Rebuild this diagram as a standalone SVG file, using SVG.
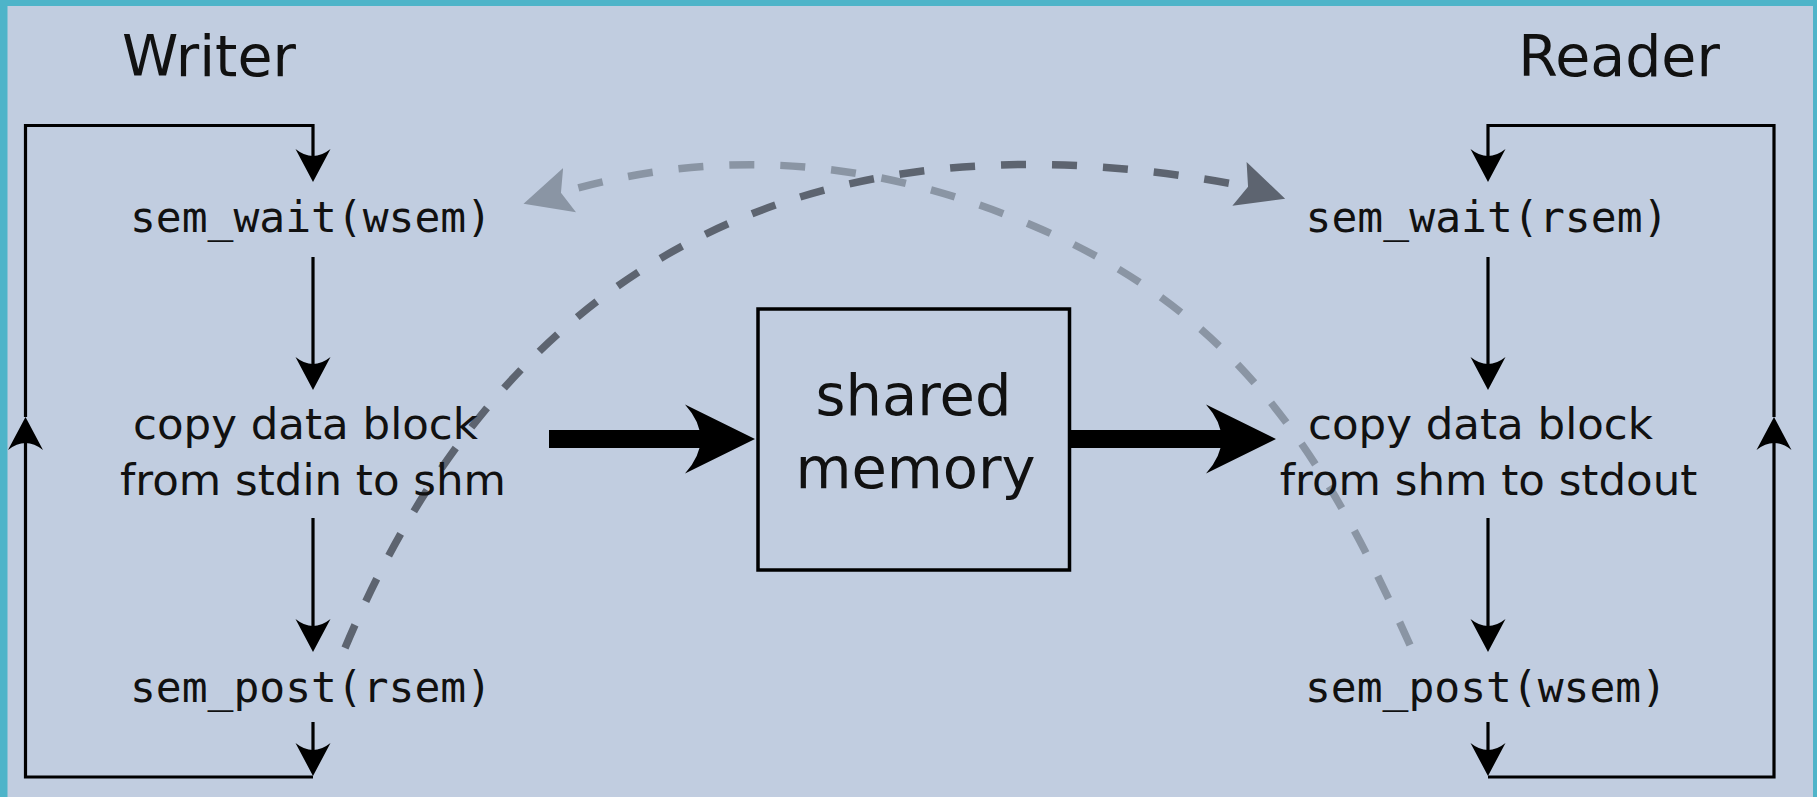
<svg xmlns="http://www.w3.org/2000/svg" width="1817" height="797" viewBox="0 0 1817 797">
  <style>
    .title { font-family: "DejaVu Sans", "Liberation Sans", sans-serif; font-size: 57px; fill: #111; text-anchor: middle; }
    .step { font-family: "DejaVu Sans", "Liberation Sans", sans-serif; font-size: 43.5px; fill: #111; text-anchor: middle; }
    .code { font-family: "DejaVu Sans Mono", "Liberation Mono", monospace; font-size: 43px; fill: #111; text-anchor: middle; }
    .shm { font-family: "DejaVu Sans", "Liberation Sans", sans-serif; font-size: 57.5px; fill: #111; text-anchor: middle; }
    .flow { fill: none; stroke: #000; stroke-width: 3.2; stroke-linejoin: miter; marker-end: url(#ah); }
    .loop { fill: none; stroke: #000; stroke-width: 3.2; stroke-linejoin: miter; }
    .data { fill: none; stroke: #000; stroke-width: 18; marker-end: url(#bigah); }
    .sig { fill: none; stroke-width: 7.5; stroke-dasharray: 25 26; }
  </style>
  <defs>
    <marker id="ah" markerUnits="userSpaceOnUse" viewBox="0 -18 33 36" markerWidth="33" markerHeight="36" refX="7" refY="0" orient="auto">
      <path d="M33,0 L0,-17.5 Q14,0 0,17.5 Z" fill="#000"/>
    </marker>
    <marker id="bigah" markerUnits="userSpaceOnUse" viewBox="0 -35 70 70" markerWidth="70" markerHeight="70" refX="16" refY="0" orient="auto">
      <path d="M70,0 L0,-34.5 Q31,0 0,34.5 Z" fill="#000"/>
    </marker>
    <marker id="sigDark" markerUnits="userSpaceOnUse" viewBox="0 -24 48 48" markerWidth="48" markerHeight="48" refX="10" refY="0" orient="18">
      <path d="M48,0 L0,-23 L9,0 L0,23 Z" fill="#5d6470"/>
    </marker>
    <marker id="sigLight" markerUnits="userSpaceOnUse" viewBox="0 -24 48 48" markerWidth="48" markerHeight="48" refX="10" refY="0" orient="auto">
      <path d="M48,0 L0,-23 L9,0 L0,23 Z" fill="#8a95a4"/>
    </marker>
  </defs>

  <!-- frame and background -->
  <rect x="0" y="0" width="1817" height="797" fill="#4eb4c9"/>
  <rect x="7.5" y="6" width="1805.5" height="791" fill="#c1cde0"/>

  <!-- connectors -->
  <g id="connectors">
    <!-- writer loop -->
    <path class="loop" d="M25.5,417 V125.5 H313 V156" marker-end="url(#ah)"/>
    <path class="flow" d="M313,257 V364"/>
    <path class="flow" d="M313,518 V626"/>
    <path class="flow" d="M313,722 V750"/>
    <path class="loop" d="M313,777 H25.5 V443" marker-end="url(#ah)"/>
    <!-- reader loop -->
    <path class="loop" d="M1774,417 V125.5 H1488 V156" marker-end="url(#ah)"/>
    <path class="flow" d="M1488,257 V364"/>
    <path class="flow" d="M1488,518 V626"/>
    <path class="flow" d="M1488,722 V750"/>
    <path class="loop" d="M1488,777 H1774 V443" marker-end="url(#ah)"/>
    <!-- data transfer through shared memory -->
    <path class="data" d="M549,439 H701"/>
    <path class="data" d="M1070,439 H1222"/>
    <!-- semaphore signals -->
    <path class="sig" stroke="#8a95a4" d="M1410,645 C1322,449 1234,312 1036,227 C861,152 707,150 560,193" marker-end="url(#sigLight)"/>
    <path class="sig" stroke="#5d6470" d="M345,648 C534,198 886,116 1249,187" marker-end="url(#sigDark)"/>
  </g>

  <!-- titles -->
  <g id="writer-title"><text class="title" x="209" y="76">Writer</text></g>
  <g id="reader-title"><text class="title" x="1619" y="76">Reader</text></g>

  <!-- writer steps -->
  <g id="writer-wait"><text class="code" x="311" y="231.5" textLength="362">sem_wait(wsem)</text></g>
  <g id="writer-copy">
    <text class="step" x="305.5" y="439">copy data block</text>
    <text class="step" x="313" y="495">from stdin to shm</text>
  </g>
  <g id="writer-post"><text class="code" x="311" y="701.5" textLength="362">sem_post(rsem)</text></g>

  <!-- reader steps -->
  <g id="reader-wait"><text class="code" x="1487" y="231.5" textLength="363">sem_wait(rsem)</text></g>
  <g id="reader-copy">
    <text class="step" x="1480.5" y="439">copy data block</text>
    <text class="step" x="1488.5" y="495">from shm to stdout</text>
  </g>
  <g id="reader-post"><text class="code" x="1486" y="701.5" textLength="362">sem_post(wsem)</text></g>

  <!-- shared memory -->
  <g id="shared-memory">
    <rect x="758" y="309" width="311.5" height="261" fill="none" stroke="#000" stroke-width="3.5"/>
    <text class="shm" x="913.5" y="415">shared</text>
    <text class="shm" x="915.5" y="488">memory</text>
  </g>
</svg>
